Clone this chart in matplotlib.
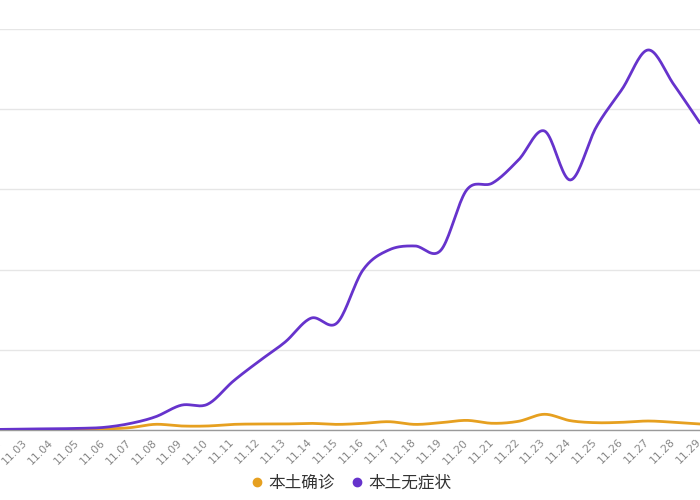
import numpy as np
import matplotlib
matplotlib.use("Agg")
import matplotlib.pyplot as plt
import matplotlib.transforms as mtransforms
from matplotlib.lines import Line2D

plt.rcParams['font.family'] = ['Noto Sans CJK SC', 'DejaVu Sans']

dates = ["11.02", "11.03", "11.04", "11.05", "11.06", "11.07", "11.08", "11.09", "11.10",
         "11.11", "11.12", "11.13", "11.14", "11.15", "11.16", "11.17", "11.18", "11.19",
         "11.20", "11.21", "11.22", "11.23", "11.24", "11.25", "11.26", "11.27", "11.28",
         "11.29"]
confirmed = [5, 10, 12, 15, 25, 57, 142, 100, 100, 140, 150, 150, 165, 140, 165, 207, 140,
             182, 240, 167, 217, 392, 232, 182, 192, 224, 192, 150]
asymptomatic = [15, 25, 30, 40, 65, 160, 330, 620, 640, 1220, 1720, 2195, 2790, 2670, 3990,
                4490, 4590, 4480, 5985, 6160, 6735, 7457, 6235, 7557, 8505, 9477, 8604, 7656]
series_names = ["本土确诊", "本土无症状"]
colors = ["#E6A020", "#6633CC"]


def smooth(y, n=20):
    y = np.asarray(y, dtype=float)
    x = np.arange(len(y))
    m = np.zeros_like(y)
    m[1:-1] = (y[2:] - y[:-2]) / 2
    m[0] = y[1] - y[0]
    m[-1] = y[-1] - y[-2]
    xs, ys = [], []
    for i in range(len(y) - 1):
        t = np.linspace(0, 1, n, endpoint=False)
        h00 = 2 * t**3 - 3 * t**2 + 1
        h10 = t**3 - 2 * t**2 + t
        h01 = -2 * t**3 + 3 * t**2
        h11 = t**3 - t**2
        xs.append(x[i] + t)
        ys.append(h00 * y[i] + h10 * m[i] + h01 * y[i + 1] + h11 * m[i + 1])
    xs.append([x[-1]])
    ys.append([y[-1]])
    return np.concatenate(xs), np.concatenate(ys)


fig = plt.figure(figsize=(7, 5), dpi=100)
ax = fig.add_axes([0, 0.14, 1, 0.802])

for vals, c in zip([confirmed, asymptomatic], colors):
    sx, sy = smooth(vals)
    ax.plot(sx, sy, color=c, lw=2.0, solid_capstyle='round', zorder=3)

# index 1 (11.03) at x=22px, 26.1 px per day
ax.set_xlim(1 - 22 / 26.1, 1 + (700 - 22) / 26.1)
ax.set_ylim(0, 10000)
ax.set_yticks(np.arange(0, 10001, 2000))
ax.yaxis.grid(True, color='#E6E6E6', lw=1)
ax.set_axisbelow(True)
ax.tick_params(axis='y', left=False, labelleft=False)
for s in ['top', 'left', 'right']:
    ax.spines[s].set_visible(False)
ax.spines['bottom'].set_color('#9A9A9A')
ax.spines['bottom'].set_linewidth(1)

ax.set_xticks(np.arange(len(dates)))
ax.set_xticklabels(dates, rotation=45, ha='right', va='top', rotation_mode='anchor',
                   fontsize=7.8, color='#888888', family=['DejaVu Sans'])
ax.tick_params(axis='x', length=0, pad=5)
offset = mtransforms.ScaledTranslation(-4 / 100, 0, fig.dpi_scale_trans)
for lbl in ax.get_xticklabels():
    lbl.set_transform(lbl.get_transform() + offset)

handles = [Line2D([], [], marker='o', ls='none', color=c, markersize=6) for c in colors]
fig.legend(handles, series_names, loc='center', bbox_to_anchor=(0.5, 0.034), ncol=2,
           frameon=False, fontsize=12, handletextpad=0.2, columnspacing=0.8,
           handlelength=1.0, labelcolor='#333333')

fig.savefig("out.png", dpi=100)
